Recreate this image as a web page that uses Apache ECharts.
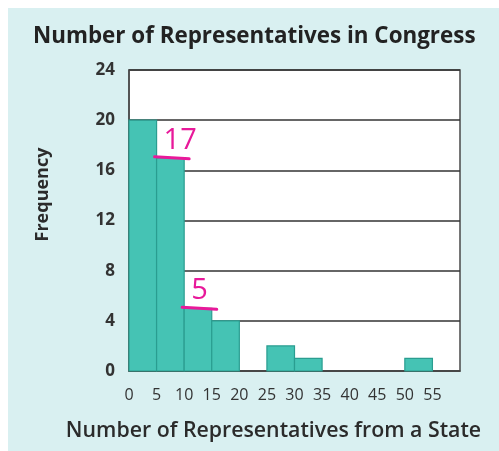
<!DOCTYPE html>
<html>
<head>
<meta charset="utf-8">
<script src="https://cdn.jsdelivr.net/npm/echarts@6/dist/echarts.min.js"></script>
<style>
html,body{margin:0;padding:0;background:#fff;}
#c{width:499px;height:451px;}
</style>
</head>
<body>
<div id="c"></div>
<script>
// Bin edges (number of representatives) and frequencies
const binStarts = [0, 5, 10, 15, 20, 25, 30, 35, 40, 45, 50];
const binWidth = 5;
const frequencies = [20, 17, 5, 4, 0, 2, 1, 0, 0, 0, 1];
const xTicks = [0, 5, 10, 15, 20, 25, 30, 35, 40, 45, 50, 55];
const yTicks = [0, 4, 8, 12, 16, 20, 24];
// Handwritten annotations (bin start, value, text)
const noteBins = [5, 10];
const noteValues = [17, 5];
const noteTexts = ['17', '5'];

const chart = echarts.init(document.getElementById('c'), null, {renderer: 'canvas'});
const font = '"Open Sans", "DejaVu Sans", sans-serif';

const barData = binStarts.map((s, i) => [s, s + binWidth, frequencies[i]]);
const noteData = noteBins.map((s, i) => [s, s + binWidth, noteValues[i], noteTexts[i]]);

chart.setOption({
  backgroundColor: '#ffffff',
  animation: false,
  graphic: [{
    type: 'rect', z: -10, silent: true,
    shape: {x: 8, y: 8, width: 499, height: 451},
    style: {fill: '#d9f0f1'}
  }],
  title: {
    text: 'Number of Representatives in Congress',
    left: 28, top: 21,
    textStyle: {fontFamily: font, fontWeight: 'bold', fontSize: 22.4, color: '#222'}
  },
  grid: {
    left: 129, right: 39, top: 70, bottom: 80,
    show: true, backgroundColor: '#ffffff', borderColor: '#4a4a4a', borderWidth: 1.5
  },
  xAxis: {
    type: 'value', min: 0, max: 60, interval: 5,
    name: 'Number of Representatives from a State',
    nameLocation: 'middle', nameGap: 49,
    nameTextStyle: {fontFamily: font, fontWeight: 600, fontSize: 21.3, color: '#2b2b2b', padding: [0, 42, 0, 0]},
    axisLine: {show: true, lineStyle: {color: '#4a4a4a', width: 1.5}},
    axisTick: {show: false},
    splitLine: {show: false},
    axisLabel: {
      margin: 16, fontFamily: font, fontSize: 16, color: '#333',
      formatter: v => xTicks.indexOf(v) >= 0 ? String(v) : ''
    }
  },
  yAxis: {
    type: 'value', min: 0, max: 24, interval: 4,
    name: 'Frequency',
    nameLocation: 'middle', nameGap: 77, nameRotate: 90,
    nameTextStyle: {fontFamily: font, fontWeight: 'bold', fontSize: 18, color: '#2b2b2b', padding: [0, 0, 0, 52]},
    axisLine: {show: true, lineStyle: {color: '#4a4a4a', width: 1.5}},
    axisTick: {show: false},
    splitLine: {show: true, lineStyle: {color: '#333333', width: 1.5}},
    axisLabel: {
      margin: 14, fontFamily: font, fontWeight: 'bold', fontSize: 17, color: '#333',
      formatter: v => yTicks.indexOf(v) >= 0 ? String(v) : ''
    }
  },
  series: [{
    type: 'custom',
    data: barData,
    encode: {x: [0, 1], y: 2},
    z: 5,
    renderItem: function (params, api) {
      const v = api.value(2);
      if (!v) return null;
      const p0 = api.coord([api.value(0), v]);
      const p1 = api.coord([api.value(1), 0]);
      return {
        type: 'rect',
        shape: {x: p0[0], y: p0[1], width: p1[0] - p0[0], height: p1[1] - p0[1]},
        style: {fill: '#45c3b4', stroke: '#2a9d90', lineWidth: 1.2}
      };
    }
  }, {
    type: 'custom',
    data: noteData,
    encode: {x: [0, 1], y: 2},
    z: 10,
    renderItem: function (params, api) {
      const v = api.value(2);
      const p0 = api.coord([api.value(0), v]);
      const p1 = api.coord([api.value(1), v]);
      const x0 = p0[0] - 2, x1 = p1[0] + 5;
      return {
        type: 'group',
        children: [{
          type: 'line',
          shape: {x1: x0, y1: p0[1] - 1, x2: x1, y2: p0[1] + 1},
          style: {stroke: '#e8199a', lineWidth: 3, lineCap: 'round'}
        }, {
          type: 'text',
          style: {
            text: noteData[params.dataIndex][3],
            x: x0 + 9, y: p0[1] - 3,
            align: 'left', verticalAlign: 'bottom',
            fontFamily: font, fontSize: 29, fill: '#e8199a'
          }
        }]
      };
    }
  }]
});
</script>
</body>
</html>
